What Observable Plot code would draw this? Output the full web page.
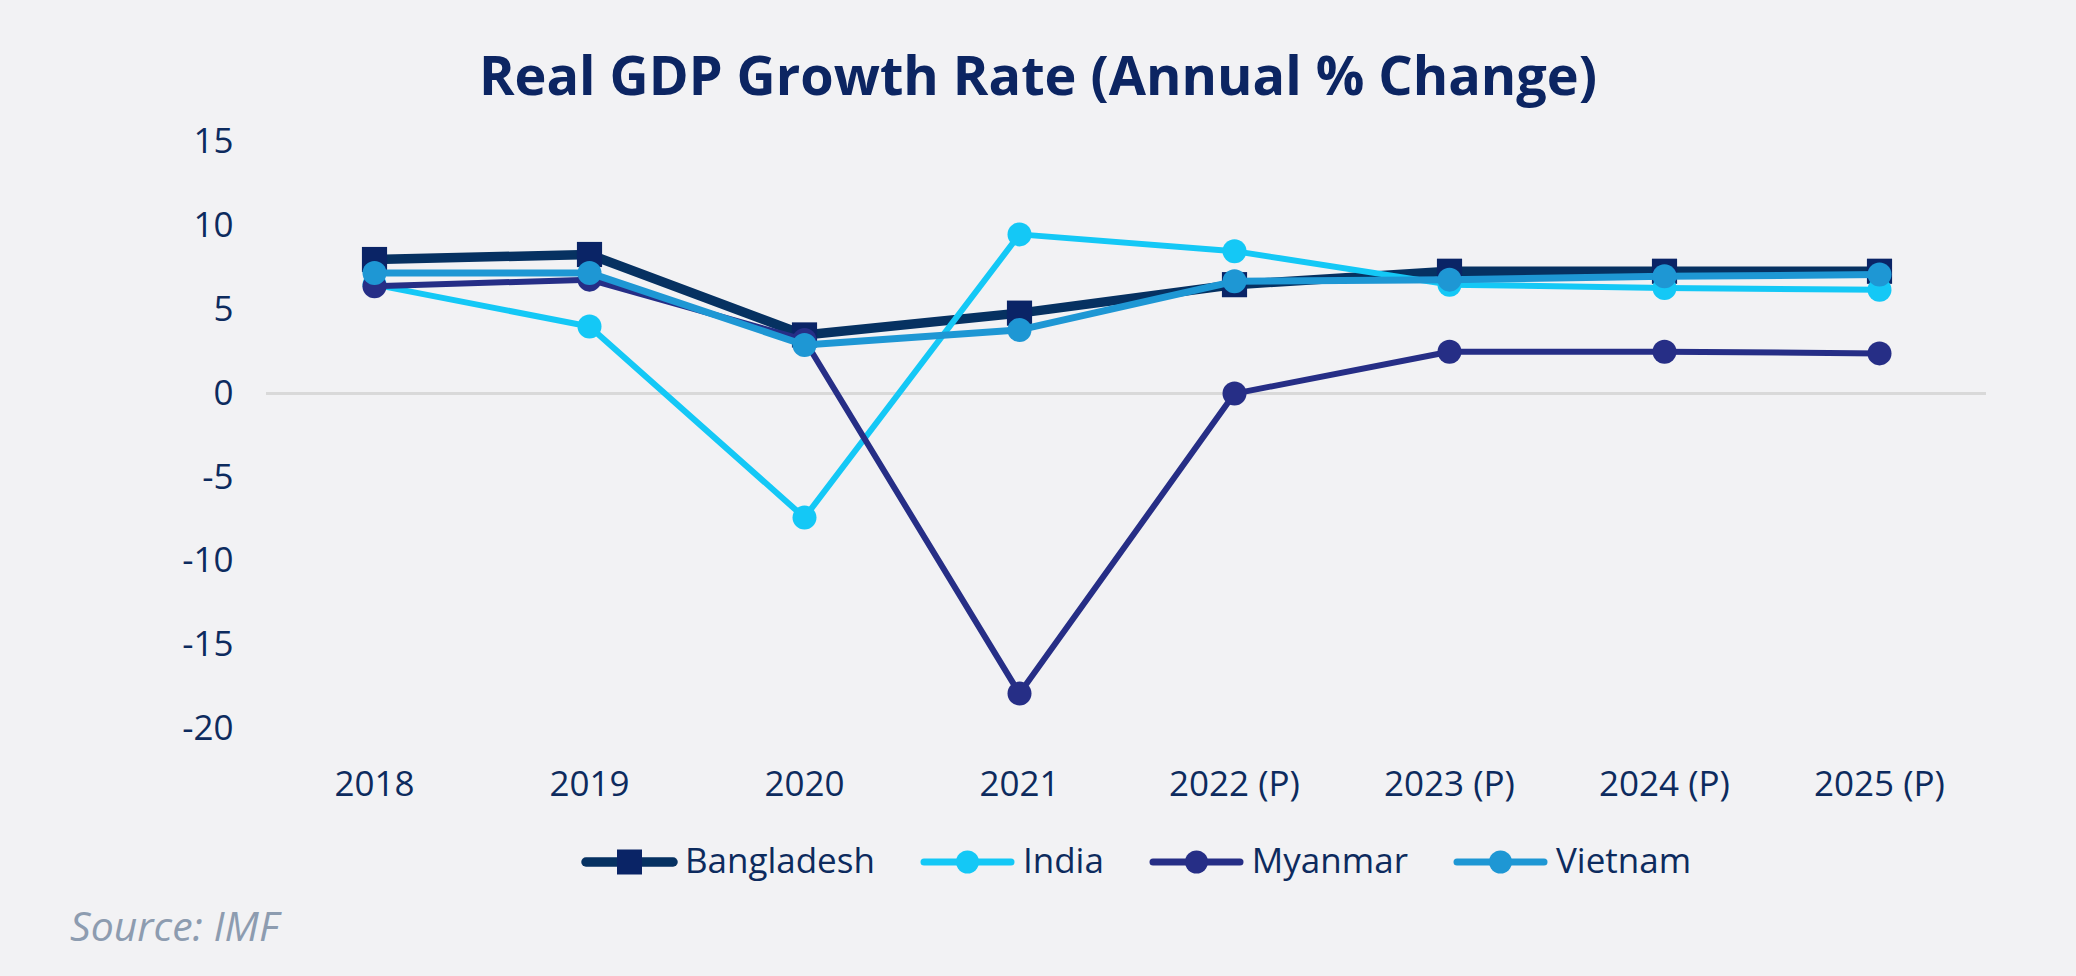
<!DOCTYPE html>
<html>
<head>
<meta charset="utf-8">
<script src="https://cdn.jsdelivr.net/npm/d3@7"></script>
<script src="https://cdn.jsdelivr.net/npm/@observablehq/plot@0.6"></script>
<style>
  html, body { margin: 0; padding: 0; background: #f2f2f4; }
  #page { position: relative; width: 2076px; height: 976px; background: #f2f2f4; overflow: hidden; font-family: "Open Sans", sans-serif; }
  #title { position: absolute; left: 0; width: 2076px; top: 47px; text-align: center; font-weight: 700; font-size: 54px; line-height: 54px; color: #0c2562; white-space: nowrap; }
  #chart { position: absolute; left: 0; top: 0; }
  #legend { position: absolute; top: 842px; height: 35px; display: flex; align-items: flex-start; white-space: nowrap; }
  .item { display: flex; align-items: flex-start; margin-right: 44px; }
  .item:last-child { margin-right: 0; }
  .item svg { display: block; margin-right: 7px; }
  .item span { font-size: 35px; line-height: 35px; color: #0d2b5e; }
  #source { position: absolute; left: 70px; top: 905px; font-style: italic; font-size: 41px; line-height: 41px; color: #8d9cb0; }
</style>
</head>
<body>
<div id="page">
  <div id="title">Real GDP Growth Rate (Annual % Change)</div>
  <div id="chart"></div>
  <div id="legend"></div>
  <div id="source">Source: IMF</div>
</div>
<script>
// ---- data ----
const years = ["2018", "2019", "2020", "2021", "2022 (P)", "2023 (P)", "2024 (P)", "2025 (P)"];
const seriesNames = ["Bangladesh", "India", "Myanmar", "Vietnam"];
const bangladesh = [8.0, 8.3, 3.5, 4.8, 6.5, 7.3, 7.3, 7.3];
const india      = [6.5, 4.0, -7.4, 9.5, 8.5, 6.5, 6.3, 6.2];
const myanmar    = [6.4, 6.8, 3.2, -17.9, 0.0, 2.5, 2.5, 2.4];
const vietnam    = [7.2, 7.2, 2.9, 3.8, 6.7, 6.8, 7.0, 7.1];
const yTicks = [-20, -15, -10, -5, 0, 5, 10, 15];

// ---- styles ----
const lineColors   = ["#063161", "#14c8f6", "#262e86", "#1e97d4"];
const markerColors = ["#0a2466", "#14c8f6", "#262e86", "#1e97d4"];
const lineWidths   = [9.5, 6, 6, 7];
const symbols      = ["square", "circle", "circle", "circle"];
const markerR      = [14.2, 12, 12, 12];

const valuesBySeries = [bangladesh, india, myanmar, vietnam];
const rows = seriesNames.flatMap((name, s) =>
  years.map((year, i) => ({series: name, year, value: valuesBySeries[s][i]}))
);

const marks = [Plot.ruleY([0], {stroke: "#d9d9d9", strokeWidth: 3})];
seriesNames.forEach((name, s) => {
  const data = rows.filter(d => d.series === name);
  marks.push(Plot.line(data, {x: "year", y: "value", stroke: lineColors[s], strokeWidth: lineWidths[s], strokeLinejoin: "round", strokeLinecap: "round"}));
  marks.push(Plot.dot(data, {x: "year", y: "value", fill: markerColors[s], stroke: "none", r: markerR[s], symbol: symbols[s]}));
});

const H = 810;
const chart = Plot.plot({
  width: 2076,
  height: H,
  marginTop: 141.7,
  marginBottom: H - 728.3,
  marginLeft: 266,
  marginRight: 90,
  style: {fontFamily: "Open Sans", fontSize: "35px", background: "transparent", color: "#0d2b5e", overflow: "visible"},
  x: {type: "point", domain: years, padding: 0.5, tickSize: 0, tickPadding: 42, label: null},
  y: {domain: [-20, 15], ticks: yTicks, tickFormat: d => String(d), tickSize: 0, tickPadding: 33, label: null},
  marks
});
document.getElementById("chart").appendChild(chart);

// ---- legend ----
const legend = document.getElementById("legend");
seriesNames.forEach((name, s) => {
  const item = document.createElement("div");
  item.className = "item";
  const sw = d3.create("svg").attr("width", 97).attr("height", 38);
  sw.append("line").attr("x1", 5).attr("x2", 92).attr("y1", 20).attr("y2", 20)
    .attr("stroke", lineColors[s]).attr("stroke-width", Math.max(lineWidths[s], 7)).attr("stroke-linecap", "round");
  if (symbols[s] === "square") {
    sw.append("rect").attr("x", 48.5 - 12.5).attr("y", 20 - 12.5).attr("width", 25).attr("height", 25).attr("fill", markerColors[s]);
  } else {
    sw.append("circle").attr("cx", 48.5).attr("cy", 20).attr("r", 11.5).attr("fill", markerColors[s]);
  }
  item.appendChild(sw.node());
  const label = document.createElement("span");
  label.textContent = name;
  item.appendChild(label);
  legend.appendChild(item);
});
// center legend on the plot area
const lw = legend.getBoundingClientRect().width;
legend.style.left = (1136 - lw / 2) + "px";
</script>
</body>
</html>
